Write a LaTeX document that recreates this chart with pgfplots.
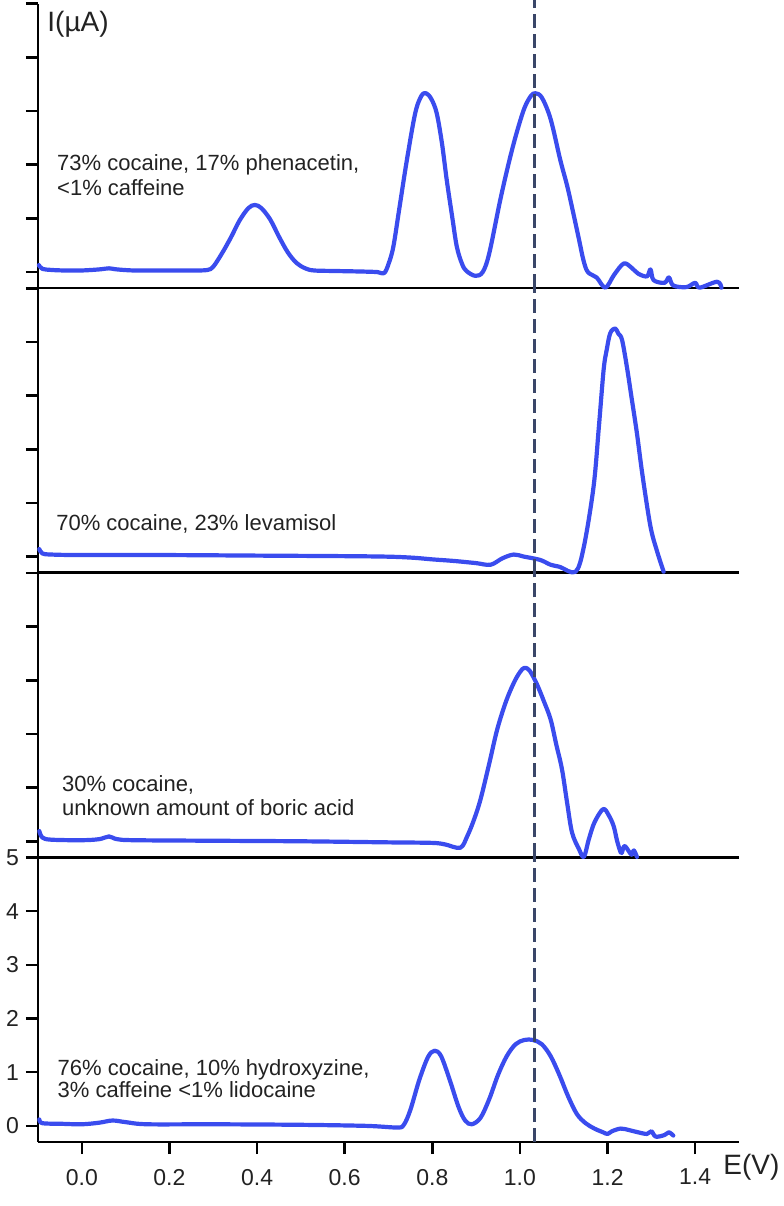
\documentclass[border=0pt]{standalone}
\usepackage{fontspec}
\setmainfont{Liberation Sans}
\usepackage{pgfplots}
\pgfplotsset{compat=1.18}
\definecolor{curve}{RGB}{58,76,238}
\definecolor{dashc}{RGB}{58,70,104}
\definecolor{txt}{RGB}{34,34,34}
\tikzset{
  lab/.style={anchor=base west, inner sep=0pt, text=txt, font=\fontsize{11}{13}\selectfont},
  biglab/.style={anchor=west, inner sep=0pt, text=txt, font=\fontsize{14}{16}\selectfont},
}
\pgfplotsset{
  panel/.style={
    scale only axis, width=350.5pt, height=142.3pt,
    xmin=-0.1, xmax=1.5, ymin=-0.3, ymax=5,
    axis x line*=bottom, axis y line*=left,
    axis line style={line width=1.3pt, black},
    every tick/.style={line width=1.3pt, black},
    tick align=outside, major tick length=6pt,
    ytick={0,1,2,3,4,5},
    clip=false,
    /pgf/number format/assume math mode=true,
    tick label style={font=\fontsize{11.5}{13}\selectfont, text=txt},
  },
  curvestyle/.style={color=curve, line width=2.1pt, line join=round, line cap=round, smooth, tension=0.55},
  dashstyle/.style={color=dashc, line width=1.5pt, dash pattern=on 7pt off 3pt},
}
\begin{document}
\begin{tikzpicture}
\useasboundingbox (-19pt,-32pt) rectangle (372.5pt,571pt);
% ---------- panel 1 ----------
\begin{axis}[panel, at={(0,426.9pt)}, anchor=south west, xtick=\empty, yticklabels={}]
\addplot[curvestyle] coordinates {
(-0.098,0.13) (-0.09,0.06) (-0.07,0.04) (-0.04,0.03) (0.0,0.03) (0.04,0.05) (0.062,0.07) (0.08,0.05)
(0.12,0.03) (0.2,0.03) (0.26,0.03) (0.287,0.04) (0.30,0.10) (0.32,0.35) (0.34,0.64) (0.36,0.96)
(0.38,1.19) (0.395,1.25) (0.41,1.19) (0.43,0.98) (0.45,0.66) (0.47,0.37) (0.49,0.17) (0.51,0.07)
(0.53,0.03) (0.58,0.02) (0.64,0.01) (0.675,0.0) (0.69,-0.02) (0.70,0.15) (0.711,0.47) (0.725,1.2)
(0.742,2.09) (0.761,2.96) (0.775,3.28) (0.786,3.33) (0.798,3.22) (0.81,2.96) (0.822,2.4)
(0.833,1.71) (0.845,1.05) (0.856,0.47) (0.868,0.15) (0.878,0.02) (0.898,-0.07) (0.915,0.0)
(0.93,0.35) (0.955,1.34) (0.975,2.05) (0.992,2.58) (1.01,3.05) (1.025,3.28) (1.035,3.33)
(1.05,3.25) (1.07,2.85) (1.092,2.09) (1.108,1.6) (1.122,1.09) (1.135,0.6) (1.145,0.22)
(1.155,0.0) (1.175,-0.1) (1.195,-0.29) (1.215,-0.05) (1.237,0.16) (1.255,0.08) (1.27,-0.03)
(1.29,-0.08) (1.298,0.05) (1.305,-0.15) (1.33,-0.2) (1.34,-0.1) (1.35,-0.25) (1.38,-0.28)
(1.40,-0.2) (1.41,-0.29) (1.45,-0.18) (1.46,-0.29)};
\addplot[dashstyle] coordinates {(1.033,-0.3) (1.033,5.07)};
\node[lab] at (axis cs:-0.057,1.89) {73\% cocaine, 17\% phenacetin,};
\node[lab] at (axis cs:-0.057,1.42) {<1\% caffeine};
\node[biglab] at ([xshift=4.5pt,yshift=-10.5pt]rel axis cs:0,1) {I(µA)};
\end{axis}
% ---------- panel 2 ----------
\begin{axis}[panel, at={(0,284.6pt)}, anchor=south west, xtick=\empty, yticklabels={}]
\addplot[curvestyle] coordinates {
(-0.097,0.14) (-0.09,0.06) (-0.07,0.04) (0.0,0.03) (0.2,0.03) (0.4,0.02) (0.6,0.01) (0.70,0.0)
(0.757,-0.02) (0.80,-0.05) (0.85,-0.08) (0.90,-0.12) (0.933,-0.15) (0.96,-0.03) (0.986,0.04)
(1.01,0.0) (1.046,-0.06) (1.07,-0.15) (1.091,-0.19) (1.127,-0.28) (1.146,0.19) (1.168,1.30)
(1.18,2.4) (1.191,3.48) (1.198,3.85) (1.206,4.16) (1.217,4.25) (1.225,4.15) (1.233,4.04)
(1.244,3.54) (1.255,2.95) (1.267,2.30) (1.28,1.5) (1.298,0.56) (1.313,0.1) (1.328,-0.28)};
\addplot[dashstyle] coordinates {(1.033,-0.3) (1.033,5)};
\node[lab] at (axis cs:-0.059,0.48) {70\% cocaine, 23\% levamisol};
\end{axis}
% ---------- panel 3 ----------
\begin{axis}[panel, at={(0,142.3pt)}, anchor=south west, xtick=\empty, yticklabels={}]
\addplot[curvestyle] coordinates {
(-0.097,0.19) (-0.09,0.07) (-0.07,0.03) (0.0,0.02) (0.04,0.04) (0.062,0.09) (0.08,0.04)
(0.12,0.02) (0.3,0.01) (0.5,0.0) (0.7,-0.02) (0.80,-0.03) (0.83,-0.06) (0.864,-0.12) (0.88,0.1)
(0.895,0.4) (0.91,0.78) (0.93,1.45) (0.948,2.08) (0.968,2.6) (0.986,2.95) (1.0,3.15) (1.01,3.23)
(1.022,3.18) (1.039,2.92) (1.055,2.6) (1.07,2.27) (1.083,1.8) (1.096,1.34) (1.108,0.7)
(1.119,0.16) (1.135,-0.15) (1.146,-0.29) (1.157,0.03) (1.17,0.35) (1.19,0.60) (1.203,0.48)
(1.214,0.28) (1.222,0.0) (1.231,-0.22) (1.236,-0.12) (1.24,-0.09) (1.248,-0.18) (1.255,-0.25)
(1.26,-0.17) (1.267,-0.29)};
\addplot[dashstyle] coordinates {(1.033,-0.3) (1.033,5)};
\node[lab] at (axis cs:-0.046,0.92) {30\% cocaine,};
\node[lab] at (axis cs:-0.046,0.48) {unknown amount of boric acid};
\end{axis}
% ---------- panel 4 ----------
\begin{axis}[panel, at={(0,0)}, anchor=south west,
  xtick={0,0.2,0.4,0.6,0.8,1.0,1.2,1.4},
  xticklabels={0.0,0.2,0.4,0.6,0.8,1.0,1.2,1.4},
  yticklabels={0,1,2,3,4,5},
  xticklabel style={yshift=-4pt}]
\addplot[curvestyle] coordinates {
(-0.097,0.12) (-0.09,0.05) (-0.05,0.04) (0.0,0.03) (0.04,0.06) (0.07,0.1) (0.1,0.07) (0.15,0.03)
(0.3,0.03) (0.5,0.02) (0.65,0.0) (0.72,-0.03) (0.735,0.02) (0.75,0.3) (0.77,0.85) (0.79,1.28)
(0.805,1.4) (0.82,1.3) (0.84,0.85) (0.86,0.35) (0.875,0.1) (0.89,0.03) (0.91,0.15) (0.93,0.5)
(0.95,0.95) (0.97,1.3) (0.99,1.52) (1.01,1.6) (1.03,1.6) (1.05,1.52) (1.07,1.3) (1.09,0.95)
(1.11,0.55) (1.13,0.22) (1.15,0.05) (1.17,-0.05) (1.19,-0.12) (1.2,-0.15) (1.21,-0.1) (1.23,-0.05)
(1.25,-0.08) (1.27,-0.12) (1.29,-0.15) (1.3,-0.1) (1.31,-0.2) (1.33,-0.17) (1.34,-0.12) (1.35,-0.18)};
\addplot[dashstyle] coordinates {(1.033,-0.3) (1.033,5)};
\node[lab] at (axis cs:-0.056,0.93) {76\% cocaine, 10\% hydroxyzine,};
\node[lab] at (axis cs:-0.056,0.53) {3\% caffeine <1\% lidocaine};
\node[biglab] at ([xshift=-8pt,yshift=-12.5pt]rel axis cs:1,0) {E(V)};
\end{axis}
\end{tikzpicture}
\end{document}
